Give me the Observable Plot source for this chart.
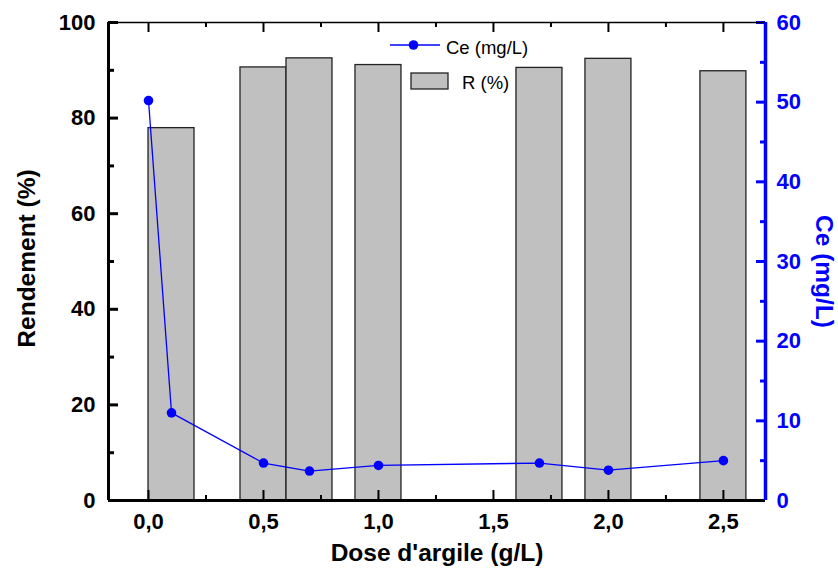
<!DOCTYPE html>
<html>
<head>
<meta charset="utf-8">
<script src="https://cdn.jsdelivr.net/npm/d3@7"></script>
<script src="https://cdn.jsdelivr.net/npm/@observablehq/plot@0.6"></script>
<style>
  html, body { margin: 0; padding: 0; background: #fff; }
  #wrap { position: relative; width: 838px; height: 577px; font-family: "Liberation Sans", Arial, sans-serif; }
  #legend { position: absolute; left: 0; top: 0; pointer-events: none; }
</style>
</head>
<body>
<div id="wrap"></div>
<script>
// ---- data ----
const doseBars = [0.1, 0.5, 0.7, 1.0, 1.7, 2.0, 2.5];
const rendement = [77.9, 90.6, 92.5, 91.1, 90.5, 92.4, 89.8];

const dosePoints = [0.0, 0.1, 0.5, 0.7, 1.0, 1.7, 2.0, 2.5];
const ceValues = [50.2, 11.0, 4.7, 3.7, 4.4, 4.7, 3.8, 5.0];

const xMajor = [0, 0.5, 1.0, 1.5, 2.0, 2.5];
const xMinor = [0.25, 0.75, 1.25, 1.75, 2.25];
const yMajor = [0, 20, 40, 60, 80, 100];
const yMinor = [10, 30, 50, 70, 90];
const ceMajor = [0, 10, 20, 30, 40, 50, 60];
const ceMinor = [5, 15, 25, 35, 45, 55];
const ceMax = 60;
const xDomain = [-0.174, 2.683];

const xLabel = "Dose d'argile (g/L)";
const yLabel = "Rendement (%)";
const y2Label = "Ce (mg/L)";
const legendCe = "Ce (mg/L)";
const legendR = "R (%)";

// ---- build ----
const W = 838, H = 577;
const M = {top: 22, right: 73, bottom: 77, left: 108};
const innerW = W - M.left - M.right;
const innerH = H - M.top - M.bottom;
const toY = v => v * 100 / ceMax;
const fmtX = d => d.toFixed(1).replace(".", ",");

const bars = doseBars.map((d, i) => ({dose: d, R: rendement[i]}));
const pts = dosePoints.map((d, i) => ({dose: d, ce: ceValues[i]}));

const chart = Plot.plot({
  width: W, height: H,
  marginTop: M.top, marginRight: M.right, marginBottom: M.bottom, marginLeft: M.left,
  style: {fontFamily: '"Liberation Sans", Arial, sans-serif', fontWeight: "bold", fontSize: "22px", background: "white", color: "black"},
  x: {domain: xDomain},
  y: {domain: [0, 100]},
  marks: [
    Plot.rectY(bars, {x1: d => d.dose - 0.1, x2: d => d.dose + 0.1, y1: 0, y2: "R", fill: "#c0c0c0", stroke: "#222", strokeWidth: 1.3}),
    Plot.line(pts, {x: "dose", y: d => toY(d.ce), stroke: "#0000ff", strokeWidth: 1.3}),
    Plot.dot(pts, {x: "dose", y: d => toY(d.ce), r: 4.8, fill: "#0000ff", stroke: "none"}),
    // axes labels
    Plot.axisX(xMajor, {anchor: "bottom", tickSize: 0, tickPadding: 13, tickFormat: fmtX, label: null, fontSize: 22}),
    Plot.axisY(yMajor, {anchor: "left", tickSize: 0, tickPadding: 13, label: null, fontSize: 22}),
    Plot.axisY(ceMajor.map(toY), {anchor: "right", tickSize: 0, tickPadding: 11, label: null, fontSize: 22, fill: "#0000ff", tickFormat: d => Math.round(d * ceMax / 100)}),
    // ticks (inward)
    Plot.ruleX(xMajor, {insetTop: innerH - 10, strokeWidth: 2}),
    Plot.ruleX(xMinor, {insetTop: innerH - 5, strokeWidth: 2}),
    Plot.ruleX(xMajor, {insetBottom: innerH - 10, strokeWidth: 2}),
    Plot.ruleX(xMinor, {insetBottom: innerH - 5, strokeWidth: 2}),
    Plot.ruleY(yMajor, {insetRight: innerW - 10, strokeWidth: 3}),
    Plot.ruleY(yMinor, {insetRight: innerW - 6, strokeWidth: 3}),
    Plot.ruleY(ceMajor.map(toY), {insetLeft: innerW - 9, strokeWidth: 3, stroke: "#0000ff"}),
    Plot.ruleY(ceMinor.map(toY), {insetLeft: innerW - 5, strokeWidth: 3, stroke: "#0000ff"}),
    // axis lines
    Plot.ruleY([100], {strokeWidth: 1.5}),
    Plot.ruleY([0], {strokeWidth: 3}),
    Plot.ruleX([xDomain[0]], {strokeWidth: 3}),
    Plot.ruleX([xDomain[1]], {strokeWidth: 3.5, stroke: "#0000ff"}),
    // titles
    Plot.text([xLabel], {frameAnchor: "bottom", dy: 60, textAnchor: "middle", fontSize: 24.5, fontWeight: "bold"}),
    Plot.text([yLabel], {frameAnchor: "left", dx: -81, dy: -3, rotate: -90, textAnchor: "middle", fontSize: 24.5, fontWeight: "bold"}),
    Plot.text([y2Label], {frameAnchor: "right", dx: 58, dy: 10, rotate: 90, textAnchor: "middle", fontSize: 24.5, fontWeight: "bold", fill: "#0000ff"})
  ]
});

const wrap = document.getElementById("wrap");
wrap.appendChild(chart);

// legend overlay
const lg = d3.select(wrap).append("svg").attr("id", "legend").attr("width", W).attr("height", H);
const g1 = lg.append("g");
g1.append("line").attr("x1", 390).attr("x2", 440).attr("y1", 45).attr("y2", 45).attr("stroke", "#0000ff").attr("stroke-width", 1.3);
g1.append("circle").attr("cx", 413.5).attr("cy", 45).attr("r", 4.8).attr("fill", "#0000ff");
g1.append("text").attr("x", 446).attr("y", 53.5).attr("font-size", 18.5).attr("font-family", '"Liberation Sans", Arial, sans-serif').text(legendCe);
const g2 = lg.append("g");
g2.append("rect").attr("x", 411).attr("y", 73).attr("width", 37).attr("height", 16).attr("fill", "#c0c0c0").attr("stroke", "#222").attr("stroke-width", 1.3);
g2.append("text").attr("x", 462).attr("y", 89).attr("font-size", 18.5).attr("font-family", '"Liberation Sans", Arial, sans-serif').text(legendR);
</script>
</body>
</html>
